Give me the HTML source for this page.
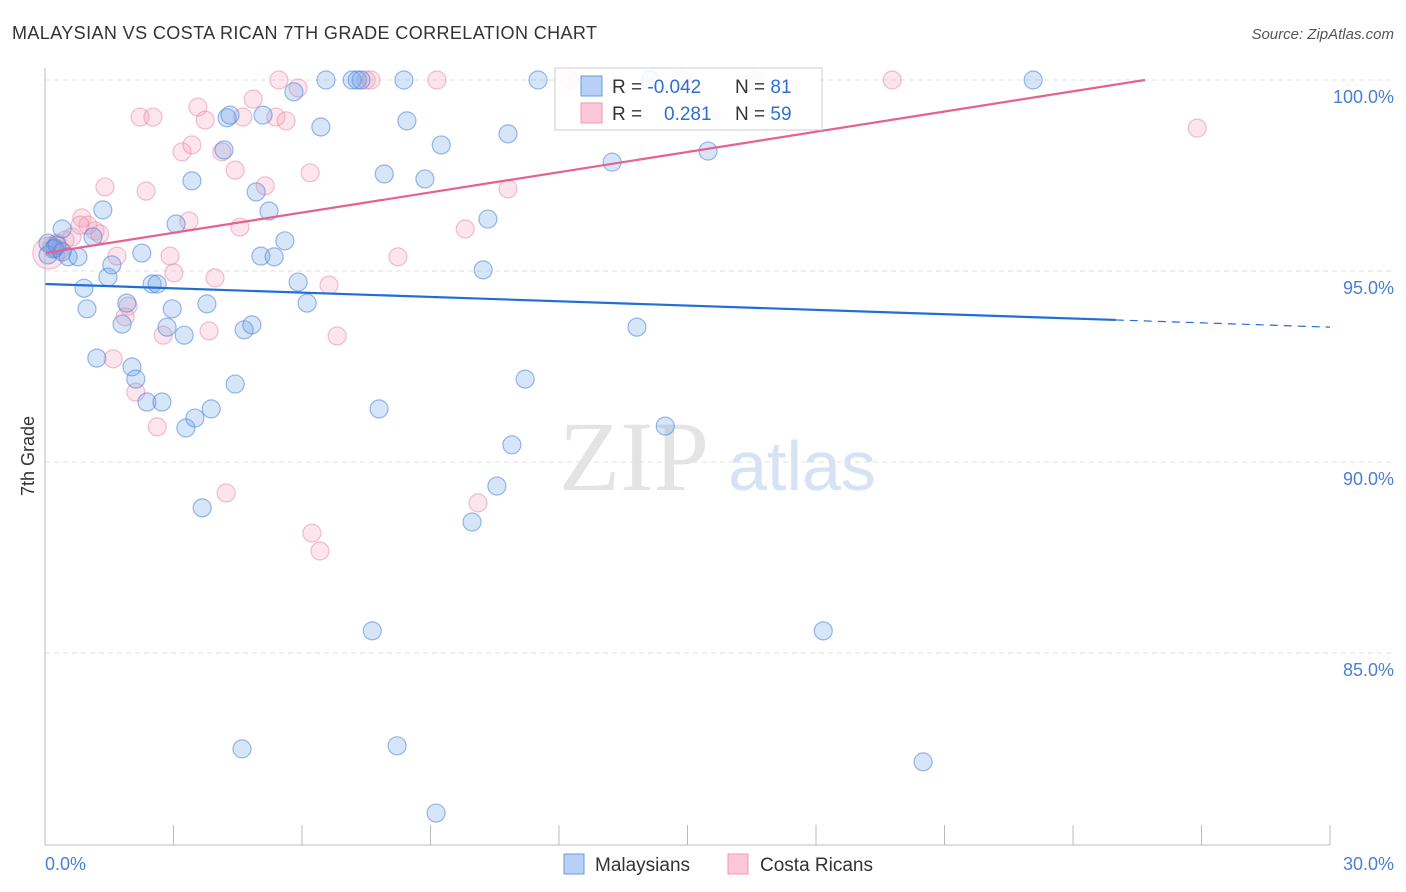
<!DOCTYPE html>
<html><head><meta charset="utf-8"><style>
body{margin:0;background:#fff;font-family:"Liberation Sans",sans-serif;}
svg{display:block}
</style></head><body>
<svg id="c" width="1406" height="892">
<text x="12" y="39" font-size="18" fill="#333" textLength="585">MALAYSIAN VS COSTA RICAN 7TH GRADE CORRELATION CHART</text>
<text x="1394" y="39" font-size="15" fill="#555" font-style="italic" text-anchor="end">Source: ZipAtlas.com</text>
<text x="634" y="490" font-size="100" fill="#e4e4e4" font-family="Liberation Serif,serif" text-anchor="middle">ZIP</text>
<text x="802" y="490" font-size="70" fill="#d5e3f5" text-anchor="middle">atlas</text>
<text transform="translate(34,456) rotate(-90)" font-size="18" fill="#333" text-anchor="middle">7th Grade</text>
<g id="grid"></g><g id="pts"></g><g id="lines"></g>
<line x1="45" y1="68" x2="45" y2="845" stroke="#bbb"/>
<line x1="45" y1="845" x2="1330" y2="845" stroke="#bbb"/>
<text x="45" y="870" font-size="18" fill="#4a7fd4">0.0%</text>
<text x="1394" y="870" font-size="18" fill="#4a7fd4" text-anchor="end">30.0%</text>
<g>
<rect x="555" y="68" width="267" height="62" fill="#fff" fill-opacity="0.85" stroke="#ccc"/>
<rect x="581" y="76" width="21" height="20" fill="#b8d0f5" stroke="#6a9ae0"/>
<rect x="581" y="103" width="21" height="20" fill="#fcc8d8" stroke="#ec9ab5"/>
<text x="612" y="93" font-size="19" fill="#333">R = <tspan fill="#2f6fd0">-0.042</tspan></text>
<text x="735" y="93" font-size="19" fill="#333">N = <tspan fill="#2f6fd0"> 81</tspan></text>
<text x="612" y="120" font-size="19" fill="#333">R = <tspan fill="#2f6fd0" x="664">0.281</tspan></text>
<text x="735" y="120" font-size="19" fill="#333">N = <tspan fill="#2f6fd0">59</tspan></text>
</g>
<g>
<rect x="564" y="854" width="20" height="20" fill="#b8d0f5" stroke="#6a9ae0"/>
<text x="595" y="871" font-size="19" fill="#333">Malaysians</text>
<rect x="728" y="854" width="20" height="20" fill="#fcc8d8" stroke="#ec9ab5"/>
<text x="760" y="871" font-size="19" fill="#333">Costa Ricans</text>
</g>
</svg>
<script>
const yTicks=[100,95,90,85];
const yTickLabels=["100.0%","95.0%","90.0%","85.0%"];
const xTicks=[0,3,6,9,12,15,18,21,24,27,30];
const blueX=[.07,.23,.40,.54,.77,.91,.98,1.12,1.21,1.35,1.47,1.56,1.80,1.91,2.03,2.12,2.26,2.38,2.50,2.62,2.73,2.85,2.97,3.06,3.25,3.29,3.43,3.50,3.67,3.78,3.88,4.18,4.25,4.32,4.44,4.60,4.65,4.83,4.93,5.09,5.04,5.23,5.35,5.60,5.81,5.91,6.12,6.44,6.56,7.17,7.29,7.38,7.64,7.80,7.92,8.22,8.38,8.45,8.87,9.13,9.25,9.97,10.23,10.34,10.55,10.81,10.90,11.21,11.51,13.24,13.82,14.13,14.48,15.48,18.17,20.50,23.07,.07,.19,.28,.40];
const blueY=[95.73,95.60,96.10,95.37,95.37,94.55,94.01,95.89,92.72,96.60,94.84,95.16,93.61,94.16,92.49,92.17,95.47,91.57,94.66,94.66,91.57,93.53,94.01,96.23,93.32,90.89,97.36,91.15,88.80,94.14,91.39,98.17,99.01,99.08,92.04,82.49,93.46,93.59,97.07,99.08,95.39,96.57,95.37,95.79,99.69,94.71,94.16,98.77,100,100,100,100,85.58,91.39,97.54,82.57,100,98.93,97.41,80.81,98.30,88.43,95.03,96.36,89.37,98.59,90.45,92.17,100,97.85,93.53,100,90.94,98.14,85.58,82.15,100,95.42,95.58,95.68,95.50];
const pinkX=[.09,.28,.47,.63,.86,1.00,1.17,1.28,1.40,1.59,1.68,1.87,1.94,2.12,2.22,2.36,2.52,2.62,2.76,2.92,3.01,3.20,3.36,3.43,3.57,3.74,3.83,3.97,4.13,4.23,4.44,4.55,4.62,4.86,5.14,5.39,5.46,5.63,5.91,6.19,6.23,6.42,6.63,6.82,7.50,7.61,8.24,9.15,9.81,10.11,10.81,12.26,14.87,16.56,19.78,26.90,.16,.35,.82];
const pinkY=[95.47,95.73,95.81,95.89,96.39,96.20,96.05,95.97,97.20,92.70,95.39,93.80,94.08,91.83,99.03,97.09,99.03,90.92,93.32,95.39,94.95,98.12,96.31,98.30,99.29,98.95,93.43,94.82,98.12,89.19,97.64,96.15,99.03,99.50,97.23,99.03,100,98.93,99.79,97.57,88.14,87.67,94.63,93.30,100,100,95.37,100,96.10,88.93,97.15,100,100,100,100,98.74,95.65,95.55,96.20];
const blueTrend=[94.66,93.53]; // y at x=0 and x=30
const pinkTrend=[95.47,100.0,25.68]; // y at 0, y at end, end x
const X=v=>45+v/30*1285, Y=v=>80+(100-v)*38.2;
const NS="http://www.w3.org/2000/svg";
function mk(t,a,p){const e=document.createElementNS(NS,t);for(const k in a)e.setAttribute(k,a[k]);p.appendChild(e);return e;}
const grid=document.getElementById('grid'),pts=document.getElementById('pts'),lines=document.getElementById('lines');
yTicks.forEach((t,i)=>{
 const l=mk('line',{x1:45,x2:1394,y1:Y(t),y2:Y(t),stroke:'#e2e2e2','stroke-dasharray':'5,4'},grid);
 
 
 const tx=mk('text',{x:1394,y:Y(t)+23,'font-size':18,fill:'#4a7fd4','text-anchor':'end'},grid);
 tx.textContent=yTickLabels[i];
 
 
});
xTicks.forEach(t=>{
 const l=mk('line',{x1:X(t),x2:X(t),y1:825,y2:845,stroke:'#bbb'},grid);
 
 
});
pinkX.forEach((x,i)=>{
 const c=mk('circle',{cx:X(x),cy:Y(pinkY[i]),r:i===0?16:9,fill:'rgba(244,160,188,0.28)',stroke:'rgba(232,130,165,0.5)','stroke-width':1.2},pts);
 
 
});
blueX.forEach((x,i)=>{
 const c=mk('circle',{cx:X(x),cy:Y(blueY[i]),r:9,fill:'rgba(110,160,235,0.28)',stroke:'rgba(70,130,220,0.55)','stroke-width':1.2},pts);
 
 
});
const bAt=x=>blueTrend[0]+(blueTrend[1]-blueTrend[0])*x/30;
let l1=mk('line',{x1:X(0),y1:Y(bAt(0)),x2:X(25),y2:Y(bAt(25)),stroke:'#1f6fd6','stroke-width':2.2},lines);


let l2=mk('line',{x1:X(25),y1:Y(bAt(25)),x2:X(30),y2:Y(bAt(30)),stroke:'#1f6fd6','stroke-width':1.2,'stroke-dasharray':'8,6'},lines);


let l3=mk('line',{x1:X(0),y1:Y(pinkTrend[0]),x2:X(pinkTrend[2]),y2:Y(pinkTrend[1]),stroke:'#e8608e','stroke-width':2.2},lines);


</script>
</body></html>
